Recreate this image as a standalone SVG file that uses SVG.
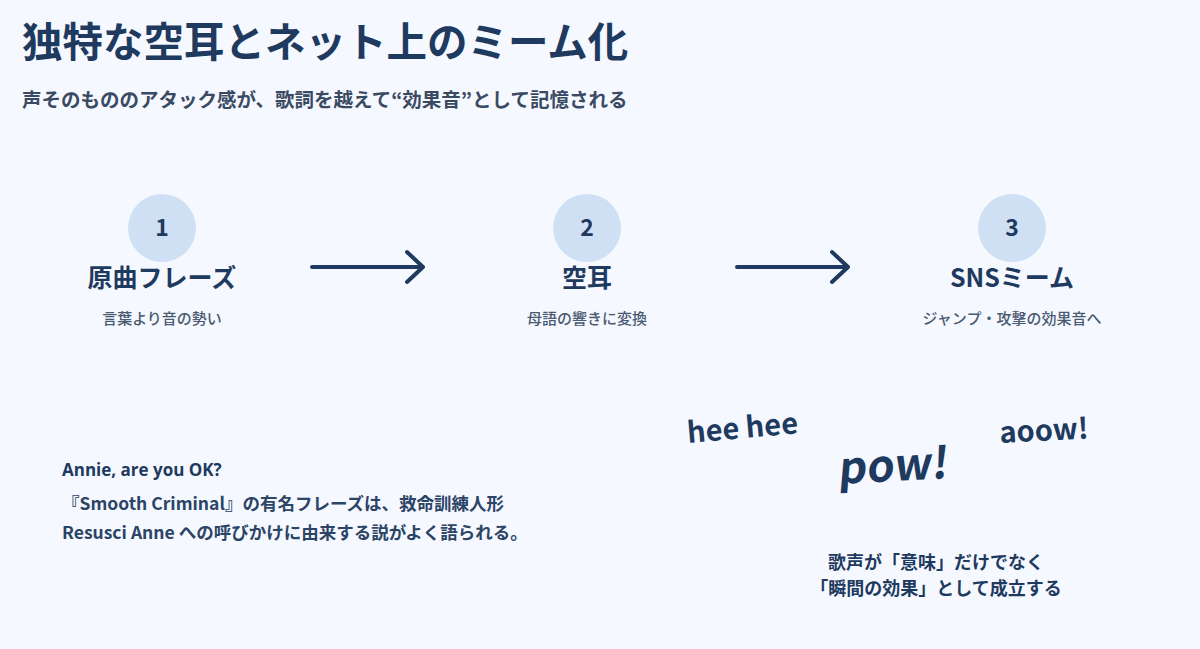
<svg xmlns="http://www.w3.org/2000/svg" width="1200" height="649" viewBox="0 0 1200 649">
<style>
text{font-family:"Noto Sans CJK JP","Noto Sans",sans-serif;fill:#1f3a5f}
.b{font-weight:700}
.num{font-size:23px;font-weight:700;text-anchor:middle}
.lbl{font-size:25px;font-weight:700;text-anchor:middle}
.sub{font-size:15px;font-weight:500;text-anchor:middle;fill:#4a5a72}
.c{fill:#cfe0f5}
.arr{stroke:#1f3a5f;stroke-width:4;fill:none;stroke-linecap:round;stroke-linejoin:round}
</style>
<rect width="1200" height="649" fill="#f5f8fe"/>
<text x="22" y="57" class="b" font-size="40.5">独特な空耳とネット上のミーム化</text>
<text x="22" y="107" class="b" font-size="19.5" style="fill:#3b4a63">声そのもののアタック感が、歌詞を越えて“効果音”として記憶される</text>
<g id="n1"><circle class="c" cx="162" cy="228" r="34"/><text class="num" x="162" y="236">1</text><text class="lbl" x="162" y="287">原曲フレーズ</text><text class="sub" x="162" y="324">言葉より音の勢い</text></g>
<g id="n2"><circle class="c" cx="587" cy="228" r="34"/><text class="num" x="587" y="236">2</text><text class="lbl" x="587" y="287">空耳</text><text class="sub" x="587" y="324">母語の響きに変換</text></g>
<g id="n3"><circle class="c" cx="1012" cy="228" r="34"/><text class="num" x="1012" y="236">3</text><text class="lbl" x="1012" y="287">SNSミーム</text><text class="sub" x="1012" y="324">ジャンプ・攻撃の効果音へ</text></g>
<g id="connectors">
<path class="arr" d="M312 267H423M407 252L423 267L407 282"/>
<path class="arr" d="M737 267H848M832 252L848 267L832 282"/>
</g>
<g id="note">
<text x="62" y="476" class="b" font-size="17" style="font-family:'Open Sans','Noto Sans',sans-serif">Annie, are you OK?</text>
<text x="62" y="510" class="b" font-size="17.5" style="fill:#2c4466">『Smooth Criminal』の有名フレーズは、救命訓練人形</text>
<text x="62" y="539" class="b" font-size="17.5" style="fill:#2c4466">Resusci Anne への呼びかけに由来する説がよく語られる。</text>
</g>
<g id="fx">
<text class="b" font-size="29" transform="translate(688,443) rotate(-5)">hee hee</text>
<text class="b" font-size="44" transform="translate(838,484) rotate(-3) skewX(-8)">pow!</text>
<text class="b" font-size="29" transform="translate(1000,443) rotate(-3)">aoow!</text>
<text class="b" font-size="18" x="936" y="569" text-anchor="middle">歌声が「意味」だけでなく</text>
<text class="b" font-size="18" x="936" y="595" text-anchor="middle">「瞬間の効果」として成立する</text>
</g>
</svg>
